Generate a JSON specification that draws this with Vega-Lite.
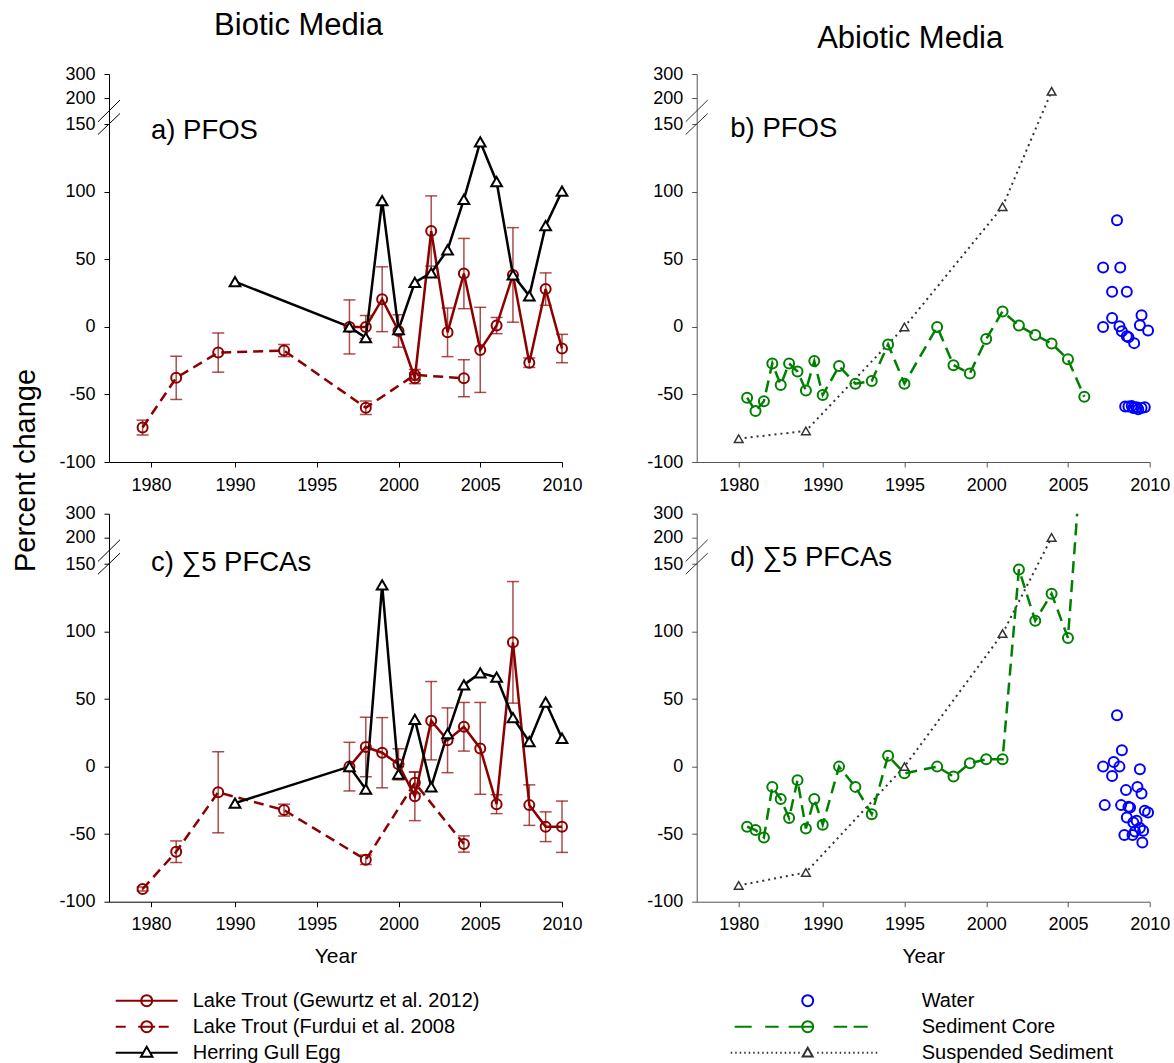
{
  "$schema": "https://vega.github.io/schema/vega-lite/v6.json",
  "background": "white",
  "padding": {"left": 11, "top": 10, "right": 4, "bottom": 4},
  "config": {
    "font": "Liberation Sans",
    "view": {"stroke": null},
    "axis": {"grid": false, "domainColor": "black", "tickColor": "black", "labelColor": "black", "labelFontSize": 18, "tickSize": 5, "labelPadding": 9, "titleFontWeight": "normal", "titleColor": "black", "labelFlush": false, "labelOverlap": false, "labelFont": "Liberation Sans", "titleFont": "Liberation Sans", "labelExpr": "datum.value + ''"}
  },
  "datasets": {
    "bio": [
      {"panel": "a", "series": "Lake Trout (Gewurtz et al. 2012)", "year": 1997, "value": 0, "err": 20},
      {"panel": "a", "series": "Lake Trout (Gewurtz et al. 2012)", "year": 1998, "value": 0, "err": 8.5},
      {"panel": "a", "series": "Lake Trout (Gewurtz et al. 2012)", "year": 1999, "value": 20.5, "err": 24},
      {"panel": "a", "series": "Lake Trout (Gewurtz et al. 2012)", "year": 2000, "value": -3, "err": 12},
      {"panel": "a", "series": "Lake Trout (Gewurtz et al. 2012)", "year": 2001, "value": -38, "err": 4},
      {"panel": "a", "series": "Lake Trout (Gewurtz et al. 2012)", "year": 2002, "value": 71, "err": 26},
      {"panel": "a", "series": "Lake Trout (Gewurtz et al. 2012)", "year": 2003, "value": -4, "err": 18},
      {"panel": "a", "series": "Lake Trout (Gewurtz et al. 2012)", "year": 2004, "value": 39.5, "err": 26},
      {"panel": "a", "series": "Lake Trout (Gewurtz et al. 2012)", "year": 2005, "value": -17, "err": 31.5},
      {"panel": "a", "series": "Lake Trout (Gewurtz et al. 2012)", "year": 2006, "value": 1, "err": 6},
      {"panel": "a", "series": "Lake Trout (Gewurtz et al. 2012)", "year": 2007, "value": 38.5, "err": 35},
      {"panel": "a", "series": "Lake Trout (Gewurtz et al. 2012)", "year": 2008, "value": -26.5, "err": 3.5},
      {"panel": "a", "series": "Lake Trout (Gewurtz et al. 2012)", "year": 2009, "value": 28, "err": 12},
      {"panel": "a", "series": "Lake Trout (Gewurtz et al. 2012)", "year": 2010, "value": -16, "err": 10.5},
      {"panel": "a", "series": "Lake Trout (Furdui et al. 2008", "year": 1979, "value": -74.5, "err": 5.5},
      {"panel": "a", "series": "Lake Trout (Furdui et al. 2008", "year": 1983, "value": -37.7, "err": 16},
      {"panel": "a", "series": "Lake Trout (Furdui et al. 2008", "year": 1988, "value": -19, "err": 14.5},
      {"panel": "a", "series": "Lake Trout (Furdui et al. 2008", "year": 1993, "value": -17.5, "err": 4.5},
      {"panel": "a", "series": "Lake Trout (Furdui et al. 2008", "year": 1998, "value": -59.8, "err": 5},
      {"panel": "a", "series": "Lake Trout (Furdui et al. 2008", "year": 2001, "value": -35.5, "err": 4},
      {"panel": "a", "series": "Lake Trout (Furdui et al. 2008", "year": 2004, "value": -38, "err": 13.7},
      {"panel": "a", "series": "Herring Gull Egg", "year": 1990, "value": 33.5},
      {"panel": "a", "series": "Herring Gull Egg", "year": 1997, "value": 0},
      {"panel": "a", "series": "Herring Gull Egg", "year": 1998, "value": -8},
      {"panel": "a", "series": "Herring Gull Egg", "year": 1999, "value": 93.5},
      {"panel": "a", "series": "Herring Gull Egg", "year": 2000, "value": -2},
      {"panel": "a", "series": "Herring Gull Egg", "year": 2001, "value": 33},
      {"panel": "a", "series": "Herring Gull Egg", "year": 2002, "value": 40},
      {"panel": "a", "series": "Herring Gull Egg", "year": 2003, "value": 57},
      {"panel": "a", "series": "Herring Gull Egg", "year": 2004, "value": 94.5},
      {"panel": "a", "series": "Herring Gull Egg", "year": 2005, "value": 137},
      {"panel": "a", "series": "Herring Gull Egg", "year": 2006, "value": 107.5},
      {"panel": "a", "series": "Herring Gull Egg", "year": 2007, "value": 38.5},
      {"panel": "a", "series": "Herring Gull Egg", "year": 2008, "value": 23},
      {"panel": "a", "series": "Herring Gull Egg", "year": 2009, "value": 75},
      {"panel": "a", "series": "Herring Gull Egg", "year": 2010, "value": 100.5},
      {"panel": "c", "series": "Lake Trout (Gewurtz et al. 2012)", "year": 1997, "value": 0, "err": 18},
      {"panel": "c", "series": "Lake Trout (Gewurtz et al. 2012)", "year": 1998, "value": 14.5, "err": 22},
      {"panel": "c", "series": "Lake Trout (Gewurtz et al. 2012)", "year": 1999, "value": 10.3, "err": 26},
      {"panel": "c", "series": "Lake Trout (Gewurtz et al. 2012)", "year": 2000, "value": 1.7, "err": 11.5},
      {"panel": "c", "series": "Lake Trout (Gewurtz et al. 2012)", "year": 2001, "value": -22, "err": 18},
      {"panel": "c", "series": "Lake Trout (Gewurtz et al. 2012)", "year": 2002, "value": 34, "err": 29},
      {"panel": "c", "series": "Lake Trout (Gewurtz et al. 2012)", "year": 2003, "value": 19.5, "err": 24},
      {"panel": "c", "series": "Lake Trout (Gewurtz et al. 2012)", "year": 2004, "value": 29.5, "err": 18},
      {"panel": "c", "series": "Lake Trout (Gewurtz et al. 2012)", "year": 2005, "value": 13.5, "err": 34},
      {"panel": "c", "series": "Lake Trout (Gewurtz et al. 2012)", "year": 2006, "value": -27.8, "err": 7},
      {"panel": "c", "series": "Lake Trout (Gewurtz et al. 2012)", "year": 2007, "value": 92, "err": 45},
      {"panel": "c", "series": "Lake Trout (Gewurtz et al. 2012)", "year": 2008, "value": -28.5, "err": 15},
      {"panel": "c", "series": "Lake Trout (Gewurtz et al. 2012)", "year": 2009, "value": -44.5, "err": 11},
      {"panel": "c", "series": "Lake Trout (Gewurtz et al. 2012)", "year": 2010, "value": -44.5, "err": 19},
      {"panel": "c", "series": "Lake Trout (Furdui et al. 2008", "year": 1979, "value": -90.6, "err": 1.5},
      {"panel": "c", "series": "Lake Trout (Furdui et al. 2008", "year": 1983, "value": -63, "err": 8},
      {"panel": "c", "series": "Lake Trout (Furdui et al. 2008", "year": 1988, "value": -19, "err": 30},
      {"panel": "c", "series": "Lake Trout (Furdui et al. 2008", "year": 1993, "value": -32.2, "err": 4.4},
      {"panel": "c", "series": "Lake Trout (Furdui et al. 2008", "year": 1998, "value": -69, "err": 3.5},
      {"panel": "c", "series": "Lake Trout (Furdui et al. 2008", "year": 2001, "value": -12, "err": 8},
      {"panel": "c", "series": "Lake Trout (Furdui et al. 2008", "year": 2004, "value": -57.3, "err": 6},
      {"panel": "c", "series": "Herring Gull Egg", "year": 1990, "value": -27},
      {"panel": "c", "series": "Herring Gull Egg", "year": 1997, "value": 0},
      {"panel": "c", "series": "Herring Gull Egg", "year": 1998, "value": -16.7},
      {"panel": "c", "series": "Herring Gull Egg", "year": 1999, "value": 134.5},
      {"panel": "c", "series": "Herring Gull Egg", "year": 2000, "value": -5.6},
      {"panel": "c", "series": "Herring Gull Egg", "year": 2001, "value": 35},
      {"panel": "c", "series": "Herring Gull Egg", "year": 2002, "value": -15},
      {"panel": "c", "series": "Herring Gull Egg", "year": 2003, "value": 24.5},
      {"panel": "c", "series": "Herring Gull Egg", "year": 2004, "value": 60.5},
      {"panel": "c", "series": "Herring Gull Egg", "year": 2005, "value": 69.4},
      {"panel": "c", "series": "Herring Gull Egg", "year": 2006, "value": 66.2},
      {"panel": "c", "series": "Herring Gull Egg", "year": 2007, "value": 36.2},
      {"panel": "c", "series": "Herring Gull Egg", "year": 2008, "value": 18.5},
      {"panel": "c", "series": "Herring Gull Egg", "year": 2009, "value": 47.8},
      {"panel": "c", "series": "Herring Gull Egg", "year": 2010, "value": 21}
    ],
    "abio": [
      {"panel": "b", "series": "Sediment Core", "year": 1981, "value": -52.4},
      {"panel": "b", "series": "Sediment Core", "year": 1982, "value": -62.3},
      {"panel": "b", "series": "Sediment Core", "year": 1983, "value": -55},
      {"panel": "b", "series": "Sediment Core", "year": 1984, "value": -27},
      {"panel": "b", "series": "Sediment Core", "year": 1985, "value": -43},
      {"panel": "b", "series": "Sediment Core", "year": 1986, "value": -27},
      {"panel": "b", "series": "Sediment Core", "year": 1987, "value": -33},
      {"panel": "b", "series": "Sediment Core", "year": 1988, "value": -47},
      {"panel": "b", "series": "Sediment Core", "year": 1989, "value": -25.3},
      {"panel": "b", "series": "Sediment Core", "year": 1990, "value": -50.4},
      {"panel": "b", "series": "Sediment Core", "year": 1991, "value": -29},
      {"panel": "b", "series": "Sediment Core", "year": 1992, "value": -42},
      {"panel": "b", "series": "Sediment Core", "year": 1993, "value": -40},
      {"panel": "b", "series": "Sediment Core", "year": 1994, "value": -13},
      {"panel": "b", "series": "Sediment Core", "year": 1995, "value": -42},
      {"panel": "b", "series": "Sediment Core", "year": 1997, "value": 0},
      {"panel": "b", "series": "Sediment Core", "year": 1998, "value": -28.3},
      {"panel": "b", "series": "Sediment Core", "year": 1999, "value": -34.4},
      {"panel": "b", "series": "Sediment Core", "year": 2000, "value": -9},
      {"panel": "b", "series": "Sediment Core", "year": 2001, "value": 11.5},
      {"panel": "b", "series": "Sediment Core", "year": 2002, "value": 1},
      {"panel": "b", "series": "Sediment Core", "year": 2003, "value": -6},
      {"panel": "b", "series": "Sediment Core", "year": 2004, "value": -12.3},
      {"panel": "b", "series": "Sediment Core", "year": 2005, "value": -24},
      {"panel": "b", "series": "Sediment Core", "year": 2006, "value": -51.7},
      {"panel": "b", "series": "Suspended Sediment", "year": 1980, "value": -82.7},
      {"panel": "b", "series": "Suspended Sediment", "year": 1988, "value": -77},
      {"panel": "b", "series": "Suspended Sediment", "year": 1995, "value": 0},
      {"panel": "b", "series": "Suspended Sediment", "year": 2001, "value": 89},
      {"panel": "b", "series": "Suspended Sediment", "year": 2004, "value": 228},
      {"panel": "b", "series": "Water", "year": 2007.15, "value": 0},
      {"panel": "b", "series": "Water", "year": 2007.15, "value": 44},
      {"panel": "b", "series": "Water", "year": 2007.7, "value": 6.6},
      {"panel": "b", "series": "Water", "year": 2007.7, "value": 26},
      {"panel": "b", "series": "Water", "year": 2008.0, "value": 79},
      {"panel": "b", "series": "Water", "year": 2008.15, "value": 0.5},
      {"panel": "b", "series": "Water", "year": 2008.2, "value": 44},
      {"panel": "b", "series": "Water", "year": 2008.3, "value": -3.2},
      {"panel": "b", "series": "Water", "year": 2008.6, "value": -6.9},
      {"panel": "b", "series": "Water", "year": 2008.7, "value": -7.6},
      {"panel": "b", "series": "Water", "year": 2008.6, "value": 26},
      {"panel": "b", "series": "Water", "year": 2009.05, "value": -12},
      {"panel": "b", "series": "Water", "year": 2009.5, "value": 8.6},
      {"panel": "b", "series": "Water", "year": 2009.4, "value": 1.3},
      {"panel": "b", "series": "Water", "year": 2009.9, "value": -2.7},
      {"panel": "b", "series": "Water", "year": 2008.5, "value": -59},
      {"panel": "b", "series": "Water", "year": 2008.7, "value": -59},
      {"panel": "b", "series": "Water", "year": 2008.9, "value": -58.5},
      {"panel": "b", "series": "Water", "year": 2009.0, "value": -60},
      {"panel": "b", "series": "Water", "year": 2009.2, "value": -59.5},
      {"panel": "b", "series": "Water", "year": 2009.3, "value": -61},
      {"panel": "b", "series": "Water", "year": 2009.5, "value": -60},
      {"panel": "b", "series": "Water", "year": 2009.7, "value": -59.5},
      {"panel": "d", "series": "Sediment Core", "year": 1981, "value": -44.5},
      {"panel": "d", "series": "Sediment Core", "year": 1982, "value": -47},
      {"panel": "d", "series": "Sediment Core", "year": 1983, "value": -52.4},
      {"panel": "d", "series": "Sediment Core", "year": 1984, "value": -15},
      {"panel": "d", "series": "Sediment Core", "year": 1985, "value": -24},
      {"panel": "d", "series": "Sediment Core", "year": 1986, "value": -38},
      {"panel": "d", "series": "Sediment Core", "year": 1987, "value": -10},
      {"panel": "d", "series": "Sediment Core", "year": 1988, "value": -45.8},
      {"panel": "d", "series": "Sediment Core", "year": 1989, "value": -24},
      {"panel": "d", "series": "Sediment Core", "year": 1990, "value": -43},
      {"panel": "d", "series": "Sediment Core", "year": 1991, "value": 0},
      {"panel": "d", "series": "Sediment Core", "year": 1992, "value": -15},
      {"panel": "d", "series": "Sediment Core", "year": 1993, "value": -35.2},
      {"panel": "d", "series": "Sediment Core", "year": 1994, "value": 8},
      {"panel": "d", "series": "Sediment Core", "year": 1995, "value": -5},
      {"panel": "d", "series": "Sediment Core", "year": 1997, "value": 0},
      {"panel": "d", "series": "Sediment Core", "year": 1998, "value": -7.4},
      {"panel": "d", "series": "Sediment Core", "year": 1999, "value": 2.5},
      {"panel": "d", "series": "Sediment Core", "year": 2000, "value": 5.4},
      {"panel": "d", "series": "Sediment Core", "year": 2001, "value": 5.4},
      {"panel": "d", "series": "Sediment Core", "year": 2002, "value": 146},
      {"panel": "d", "series": "Sediment Core", "year": 2003, "value": 108},
      {"panel": "d", "series": "Sediment Core", "year": 2004, "value": 128},
      {"panel": "d", "series": "Sediment Core", "year": 2005, "value": 95.3},
      {"panel": "d", "series": "Sediment Core", "year": 2006, "value": 700},
      {"panel": "d", "series": "Suspended Sediment", "year": 1980, "value": -88},
      {"panel": "d", "series": "Suspended Sediment", "year": 1988, "value": -78.3},
      {"panel": "d", "series": "Suspended Sediment", "year": 1995, "value": 0},
      {"panel": "d", "series": "Suspended Sediment", "year": 2001, "value": 98.5},
      {"panel": "d", "series": "Suspended Sediment", "year": 2004, "value": 201},
      {"panel": "d", "series": "Water", "year": 2007.15, "value": 0},
      {"panel": "d", "series": "Water", "year": 2007.25, "value": -28.5},
      {"panel": "d", "series": "Water", "year": 2007.7, "value": -6.9},
      {"panel": "d", "series": "Water", "year": 2007.8, "value": 3.5},
      {"panel": "d", "series": "Water", "year": 2008.0, "value": 38},
      {"panel": "d", "series": "Water", "year": 2008.15, "value": 0},
      {"panel": "d", "series": "Water", "year": 2008.3, "value": 12.1},
      {"panel": "d", "series": "Water", "year": 2008.25, "value": -28.5},
      {"panel": "d", "series": "Water", "year": 2008.55, "value": -17.4},
      {"panel": "d", "series": "Water", "year": 2008.6, "value": -37.7},
      {"panel": "d", "series": "Water", "year": 2008.45, "value": -50.7},
      {"panel": "d", "series": "Water", "year": 2008.7, "value": -29.8},
      {"panel": "d", "series": "Water", "year": 2008.8, "value": -30.3},
      {"panel": "d", "series": "Water", "year": 2008.95, "value": -50.7},
      {"panel": "d", "series": "Water", "year": 2009.0, "value": -41.4},
      {"panel": "d", "series": "Water", "year": 2009.1, "value": -48},
      {"panel": "d", "series": "Water", "year": 2009.2, "value": -40.1},
      {"panel": "d", "series": "Water", "year": 2009.25, "value": -15},
      {"panel": "d", "series": "Water", "year": 2009.4, "value": -1.9},
      {"panel": "d", "series": "Water", "year": 2009.5, "value": -19.9},
      {"panel": "d", "series": "Water", "year": 2009.4, "value": -45.5},
      {"panel": "d", "series": "Water", "year": 2009.55, "value": -56.1},
      {"panel": "d", "series": "Water", "year": 2009.6, "value": -47.5},
      {"panel": "d", "series": "Water", "year": 2009.7, "value": -32.7},
      {"panel": "d", "series": "Water", "year": 2009.9, "value": -34}
    ]
  },
  "columns": 2,
  "spacing": {"row": 51.7, "column": 134.7},
  "bounds": "flush",
  "resolve": {"scale": {"color": "independent", "x": "independent", "y": "independent"}, "legend": {"color": "independent"}},
  "concat": [
    {
      "width": 453, "height": 388,
      "title": {"text": "Biotic Media", "fontSize": 31, "fontWeight": "normal", "anchor": "middle", "dx": -37, "offset": 23, "color": "black", "font": "Liberation Sans"},
      "layer": [
        {"data": {"name": "bio"}, "transform": [{"filter": "datum.panel === 'a' && isValid(datum.err)"}],
         "mark": {"type": "errorbar", "ticks": {"size": 12}, "thickness": 1.5, "color": "#8B0000", "opacity": 0.7},
         "encoding": {
           "x": {"field": "year", "type": "quantitative", "scale": {"domain": [1975, 1990, 2010], "range": [0, 126, 453], "nice": false, "zero": false}, "axis": {"values": [1980, 1990, 1995, 2000, 2005, 2010], "format": "d", "title": null}},
           "y": {"field": "value", "type": "quantitative", "scale": {"domain": [-100, 150, 200, 300], "range": [388, 50.3, 24, 0], "nice": false, "zero": false}, "axis": {"values": [-100, -50, 0, 50, 100, 150, 200, 300], "title": "Percent change", "titleFontSize": 29, "titleX": -84, "titleY": 396, "titleAngle": 270, "titleBaseline": "middle", "titleAlign": "center"}},
           "yError": {"field": "err"}}},
        {"data": {"name": "bio"}, "transform": [{"filter": "datum.panel === 'a' && datum.series === 'Lake Trout (Furdui et al. 2008'"}],
         "mark": {"type": "line", "strokeWidth": 2.5, "strokeDash": [10, 6]},
         "encoding": {"x": {"field": "year", "type": "quantitative"}, "y": {"field": "value", "type": "quantitative"},
           "color": {"field": "series", "type": "nominal", "scale": {"domain": ["Lake Trout (Gewurtz et al. 2012)", "Lake Trout (Furdui et al. 2008", "Herring Gull Egg"], "range": ["#8B0000", "#8B0000", "#000000"]}, "legend": null}}},
        {"data": {"name": "bio"}, "transform": [{"filter": "datum.panel === 'a' && datum.series === 'Lake Trout (Gewurtz et al. 2012)'"}],
         "mark": {"type": "line", "strokeWidth": 2.5},
         "encoding": {"x": {"field": "year", "type": "quantitative"}, "y": {"field": "value", "type": "quantitative"},
           "color": {"field": "series", "type": "nominal", "legend": null}}},
        {"data": {"name": "bio"}, "transform": [{"filter": "datum.panel === 'a' && datum.series === 'Herring Gull Egg'"}],
         "mark": {"type": "line", "strokeWidth": 2.5},
         "encoding": {"x": {"field": "year", "type": "quantitative"}, "y": {"field": "value", "type": "quantitative"},
           "color": {"field": "series", "type": "nominal", "legend": null}}},
        {"data": {"name": "bio"}, "transform": [{"filter": "datum.panel === 'a' && datum.series !== 'Herring Gull Egg'"}],
         "mark": {"type": "point", "shape": "circle", "filled": false, "size": 100, "strokeWidth": 2, "color": "#8B0000", "opacity": 1},
         "encoding": {"x": {"field": "year", "type": "quantitative"}, "y": {"field": "value", "type": "quantitative"}}},
        {"data": {"name": "bio"}, "transform": [{"filter": "datum.panel === 'a' && datum.series === 'Herring Gull Egg'"}],
         "mark": {"type": "point", "shape": "triangle-up", "filled": true, "fill": "white", "stroke": "black", "strokeWidth": 2, "size": 115, "opacity": 1},
         "encoding": {"x": {"field": "year", "type": "quantitative"}, "y": {"field": "value", "type": "quantitative"}}},
        {"data": {"values": [{}]},
         "mark": {"type": "point", "shape": "M-1,0.39L1,-1.58M-1,1.55L1,-0.36", "size": 484, "filled": false, "stroke": "black", "strokeWidth": 1, "opacity": 1},
         "encoding": {"x": {"datum": 1975, "type": "quantitative"}, "y": {"datum": 163, "type": "quantitative"}}},
        {"data": {"values": [{}]},
         "mark": {"type": "text", "text": "a) PFOS", "fontSize": 27.5, "align": "left", "baseline": "middle", "color": "black", "font": "Liberation Sans"},
         "encoding": {"x": {"datum": 1980, "type": "quantitative"}, "y": {"datum": 145.4, "type": "quantitative"}}}
      ]
    },
    {
      "width": 453, "height": 388,
      "title": {"text": "Abiotic Media", "fontSize": 31, "fontWeight": "normal", "anchor": "middle", "dx": -13, "offset": 10, "color": "black", "font": "Liberation Sans"},
      "layer": [
        {"data": {"name": "abio"}, "transform": [{"filter": "datum.panel === 'b' && datum.series === 'Suspended Sediment'"}],
         "mark": {"type": "line", "strokeWidth": 2, "strokeDash": [2, 4]},
         "encoding": {
           "x": {"field": "year", "type": "quantitative", "scale": {"domain": [1975, 1990, 2010], "range": [0, 126, 453], "nice": false, "zero": false}, "axis": {"values": [1980, 1990, 1995, 2000, 2005, 2010], "format": "d", "title": null, "domainColor": "#555", "tickColor": "#555"}},
           "y": {"field": "value", "type": "quantitative", "scale": {"domain": [-100, 150, 200, 300], "range": [388, 50.3, 24, 0], "nice": false, "zero": false}, "axis": {"values": [-100, -50, 0, 50, 100, 150, 200, 300], "title": null, "domainColor": "#555", "tickColor": "#555"}},
           "color": {"field": "series", "type": "nominal", "scale": {"domain": ["Water", "Sediment Core", "Suspended Sediment"], "range": ["#0000FF", "#008000", "#333333"]}, "legend": null}}},
        {"data": {"name": "abio"}, "transform": [{"filter": "datum.panel === 'b' && datum.series === 'Sediment Core'"}],
         "mark": {"type": "line", "strokeWidth": 2.5, "strokeDash": [12, 7]},
         "encoding": {"x": {"field": "year", "type": "quantitative"}, "y": {"field": "value", "type": "quantitative"},
           "color": {"field": "series", "type": "nominal", "legend": null}}},
        {"data": {"name": "abio"}, "transform": [{"filter": "datum.panel === 'b' && datum.series === 'Sediment Core'"}],
         "mark": {"type": "point", "shape": "circle", "filled": false, "size": 100, "strokeWidth": 2, "color": "#008000", "opacity": 1},
         "encoding": {"x": {"field": "year", "type": "quantitative"}, "y": {"field": "value", "type": "quantitative"}}},
        {"data": {"name": "abio"}, "transform": [{"filter": "datum.panel === 'b' && datum.series === 'Suspended Sediment'"}],
         "mark": {"type": "point", "shape": "triangle-up", "filled": true, "fill": "white", "stroke": "#333333", "strokeWidth": 1.5, "size": 75, "opacity": 1},
         "encoding": {"x": {"field": "year", "type": "quantitative"}, "y": {"field": "value", "type": "quantitative"}}},
        {"data": {"name": "abio"}, "transform": [{"filter": "datum.panel === 'b' && datum.series === 'Water'"}],
         "mark": {"type": "point", "shape": "circle", "filled": false, "size": 100, "strokeWidth": 2, "opacity": 1},
         "encoding": {"x": {"field": "year", "type": "quantitative"}, "y": {"field": "value", "type": "quantitative"},
           "color": {"field": "series", "type": "nominal", "legend": null}}},
        {"data": {"values": [{}]},
         "mark": {"type": "point", "shape": "M-1,0.39L1,-1.58M-1,1.55L1,-0.36", "size": 484, "filled": false, "stroke": "#333", "strokeWidth": 1, "opacity": 1},
         "encoding": {"x": {"datum": 1975, "type": "quantitative"}, "y": {"datum": 163, "type": "quantitative"}}},
        {"data": {"values": [{}]},
         "mark": {"type": "text", "text": "b) PFOS", "fontSize": 27.5, "align": "left", "baseline": "middle", "color": "black", "font": "Liberation Sans"},
         "encoding": {"x": {"datum": 1979, "type": "quantitative"}, "y": {"datum": 146.3, "type": "quantitative"}}}
      ]
    },
    {
      "width": 453, "height": 388,
      "layer": [
        {"data": {"name": "bio"}, "transform": [{"filter": "datum.panel === 'c' && isValid(datum.err)"}],
         "mark": {"type": "errorbar", "ticks": {"size": 12}, "thickness": 1.5, "color": "#8B0000", "opacity": 0.7},
         "encoding": {
           "x": {"field": "year", "type": "quantitative", "scale": {"domain": [1975, 1990, 2010], "range": [0, 126, 453], "nice": false, "zero": false}, "axis": {"values": [1980, 1990, 1995, 2000, 2005, 2010], "format": "d", "title": "Year", "titleFontSize": 21, "titlePadding": 12}},
           "y": {"field": "value", "type": "quantitative", "scale": {"domain": [-100, 150, 200, 300], "range": [388, 50.3, 24, 0], "nice": false, "zero": false}, "axis": {"values": [-100, -50, 0, 50, 100, 150, 200, 300], "title": null}},
           "yError": {"field": "err"}}},
        {"data": {"name": "bio"}, "transform": [{"filter": "datum.panel === 'c' && datum.series === 'Lake Trout (Gewurtz et al. 2012)'"}],
         "mark": {"type": "line", "strokeWidth": 2.5},
         "encoding": {"x": {"field": "year", "type": "quantitative"}, "y": {"field": "value", "type": "quantitative"},
           "color": {"field": "series", "type": "nominal", "scale": {"domain": ["Lake Trout (Gewurtz et al. 2012)", "Lake Trout (Furdui et al. 2008", "Herring Gull Egg"], "range": ["#8B0000", "#8B0000", "#000000"]},
             "legend": {"orient": "none", "legendX": 27.7, "legendY": 477, "title": null, "symbolSize": 100, "symbolStrokeWidth": 2, "labelFontSize": 20, "labelFont": "Liberation Sans", "labelColor": "black", "labelOffset": 36, "labelLimit": 600, "rowPadding": 6, "padding": 0,
               "encode": {"symbols": {"update": {
                 "shape": {"signal": "datum.value === 'Herring Gull Egg' ? 'M-6.2,0L-0.69,0M0.69,0L6.2,0M0,-1.2L1.15,0.8L-1.15,0.8Z' : datum.value === 'Lake Trout (Furdui et al. 2008' ? 'M-6.2,0L-4.2,0M-1.7,0L1.7,0M2.4,0L4.4,0M-1.1,0A1.1,1.1 0 1,0 1.1,0A1.1,1.1 0 1,0 -1.1,0' : 'M-6.2,0L6.2,0M-1.1,0A1.1,1.1 0 1,0 1.1,0A1.1,1.1 0 1,0 -1.1,0'"},
                 "fill": {"value": "white"}, "strokeDash": {"value": []}, "opacity": {"value": 1}, "strokeWidth": {"value": 2}}}}}}}},
        {"data": {"name": "bio"}, "transform": [{"filter": "datum.panel === 'c' && datum.series === 'Lake Trout (Furdui et al. 2008'"}],
         "mark": {"type": "line", "strokeWidth": 2.5, "strokeDash": [10, 6]},
         "encoding": {"x": {"field": "year", "type": "quantitative"}, "y": {"field": "value", "type": "quantitative"},
           "color": {"field": "series", "type": "nominal"}}},
        {"data": {"name": "bio"}, "transform": [{"filter": "datum.panel === 'c' && datum.series === 'Herring Gull Egg'"}],
         "mark": {"type": "line", "strokeWidth": 2.5},
         "encoding": {"x": {"field": "year", "type": "quantitative"}, "y": {"field": "value", "type": "quantitative"},
           "color": {"field": "series", "type": "nominal"}}},
        {"data": {"name": "bio"}, "transform": [{"filter": "datum.panel === 'c' && datum.series !== 'Herring Gull Egg'"}],
         "mark": {"type": "point", "shape": "circle", "filled": false, "size": 100, "strokeWidth": 2, "color": "#8B0000", "opacity": 1},
         "encoding": {"x": {"field": "year", "type": "quantitative"}, "y": {"field": "value", "type": "quantitative"}}},
        {"data": {"name": "bio"}, "transform": [{"filter": "datum.panel === 'c' && datum.series === 'Herring Gull Egg'"}],
         "mark": {"type": "point", "shape": "triangle-up", "filled": true, "fill": "white", "stroke": "black", "strokeWidth": 2, "size": 115, "opacity": 1},
         "encoding": {"x": {"field": "year", "type": "quantitative"}, "y": {"field": "value", "type": "quantitative"}}},
        {"data": {"values": [{}]},
         "mark": {"type": "point", "shape": "M-1,0.39L1,-1.58M-1,1.55L1,-0.36", "size": 484, "filled": false, "stroke": "black", "strokeWidth": 1, "opacity": 1},
         "encoding": {"x": {"datum": 1975, "type": "quantitative"}, "y": {"datum": 163, "type": "quantitative"}}},
        {"data": {"values": [{}]},
         "mark": {"type": "text", "text": "c) ∑5 PFCAs", "fontSize": 27.5, "align": "left", "baseline": "middle", "color": "black", "font": "Liberation Sans"},
         "encoding": {"x": {"datum": 1980, "type": "quantitative"}, "y": {"datum": 151, "type": "quantitative"}}}
      ]
    },
    {
      "width": 453, "height": 388,
      "layer": [
        {"data": {"name": "abio"}, "transform": [{"filter": "datum.panel === 'd' && datum.series === 'Suspended Sediment'"}],
         "mark": {"type": "line", "strokeWidth": 2, "strokeDash": [2, 4]},
         "encoding": {
           "x": {"field": "year", "type": "quantitative", "scale": {"domain": [1975, 1990, 2010], "range": [0, 126, 453], "nice": false, "zero": false}, "axis": {"values": [1980, 1990, 1995, 2000, 2005, 2010], "format": "d", "title": "Year", "titleFontSize": 21, "titlePadding": 12, "domainColor": "#555", "tickColor": "#555"}},
           "y": {"field": "value", "type": "quantitative", "scale": {"domain": [-100, 150, 200, 300], "range": [388, 50.3, 24, 0], "nice": false, "zero": false}, "axis": {"values": [-100, -50, 0, 50, 100, 150, 200, 300], "title": null, "domainColor": "#555", "tickColor": "#555"}},
           "color": {"field": "series", "type": "nominal", "scale": {"domain": ["Water", "Sediment Core", "Suspended Sediment"], "range": ["#0000FF", "#008000", "#333333"]},
             "legend": {"orient": "none", "legendX": 99, "legendY": 477, "title": null, "symbolSize": 100, "symbolStrokeWidth": 2, "labelFontSize": 20, "labelFont": "Liberation Sans", "labelColor": "black", "labelOffset": 106, "labelLimit": 600, "rowPadding": 6, "padding": 0,
               "encode": {"symbols": {"update": {
                 "shape": {"signal": "datum.value === 'Water' ? 'M-0.7,0A1.1,1.1 0 1,0 1.5,0A1.1,1.1 0 1,0 -0.7,0' : datum.value === 'Sediment Core' ? 'M-14.2,0L-10.8,0M-8.1,0L-5.4,0M-3.4,0L1.5,0M5.6,0L8.3,0M9.6,0L12.4,0M-0.7,0A1.1,1.1 0 1,0 1.5,0A1.1,1.1 0 1,0 -0.7,0' : 'M-15,0L-14.7,0M-14.1,0L-13.8,0M-13.2,0L-12.9,0M-12.3,0L-12,0M-11.4,0L-11.1,0M-10.5,0L-10.2,0M-9.6,0L-9.3,0M-8.7,0L-8.4,0M-7.8,0L-7.5,0M-6.9,0L-6.6,0M-6,0L-5.7,0M-5.1,0L-4.8,0M-4.2,0L-3.9,0M-3.3,0L-3,0M-2.4,0L-2.1,0M-1.5,0L-1.2,0M2.3,0L2.6,0M3.2,0L3.5,0M4.1,0L4.4,0M5,0L5.3,0M5.9,0L6.2,0M6.8,0L7.1,0M7.7,0L8,0M8.6,0L8.9,0M9.5,0L9.8,0M10.4,0L10.7,0M11.3,0L11.6,0M12.2,0L12.5,0M13.1,0L13.4,0M14,0L14.3,0M0.4,-1L1.4,0.75L-0.6,0.75Z'"},
                 "fill": {"value": "white"}, "strokeDash": {"value": []}, "opacity": {"value": 1}, "strokeWidth": {"value": 2}}}}}}}},
        {"data": {"name": "abio"}, "transform": [{"filter": "datum.panel === 'd' && datum.series === 'Sediment Core'"}],
         "mark": {"type": "line", "strokeWidth": 2.5, "strokeDash": [12, 7], "clip": true},
         "encoding": {"x": {"field": "year", "type": "quantitative"}, "y": {"field": "value", "type": "quantitative"},
           "color": {"field": "series", "type": "nominal"}}},
        {"data": {"name": "abio"}, "transform": [{"filter": "datum.panel === 'd' && datum.series === 'Sediment Core'"}],
         "mark": {"type": "point", "shape": "circle", "filled": false, "size": 100, "strokeWidth": 2, "color": "#008000", "opacity": 1, "clip": true},
         "encoding": {"x": {"field": "year", "type": "quantitative"}, "y": {"field": "value", "type": "quantitative"}}},
        {"data": {"name": "abio"}, "transform": [{"filter": "datum.panel === 'd' && datum.series === 'Suspended Sediment'"}],
         "mark": {"type": "point", "shape": "triangle-up", "filled": true, "fill": "white", "stroke": "#333333", "strokeWidth": 1.5, "size": 75, "opacity": 1},
         "encoding": {"x": {"field": "year", "type": "quantitative"}, "y": {"field": "value", "type": "quantitative"}}},
        {"data": {"name": "abio"}, "transform": [{"filter": "datum.panel === 'd' && datum.series === 'Water'"}],
         "mark": {"type": "point", "shape": "circle", "filled": false, "size": 100, "strokeWidth": 2, "opacity": 1},
         "encoding": {"x": {"field": "year", "type": "quantitative"}, "y": {"field": "value", "type": "quantitative"},
           "color": {"field": "series", "type": "nominal"}}},
        {"data": {"values": [{}]},
         "mark": {"type": "point", "shape": "M-1,0.39L1,-1.58M-1,1.55L1,-0.36", "size": 484, "filled": false, "stroke": "#333", "strokeWidth": 1, "opacity": 1},
         "encoding": {"x": {"datum": 1975, "type": "quantitative"}, "y": {"datum": 163, "type": "quantitative"}}},
        {"data": {"values": [{}]},
         "mark": {"type": "text", "text": "d) ∑5 PFCAs", "fontSize": 27.5, "align": "left", "baseline": "middle", "color": "black", "font": "Liberation Sans"},
         "encoding": {"x": {"datum": 1979, "type": "quantitative"}, "y": {"datum": 160.5, "type": "quantitative"}}}
      ]
    }
  ]
}
